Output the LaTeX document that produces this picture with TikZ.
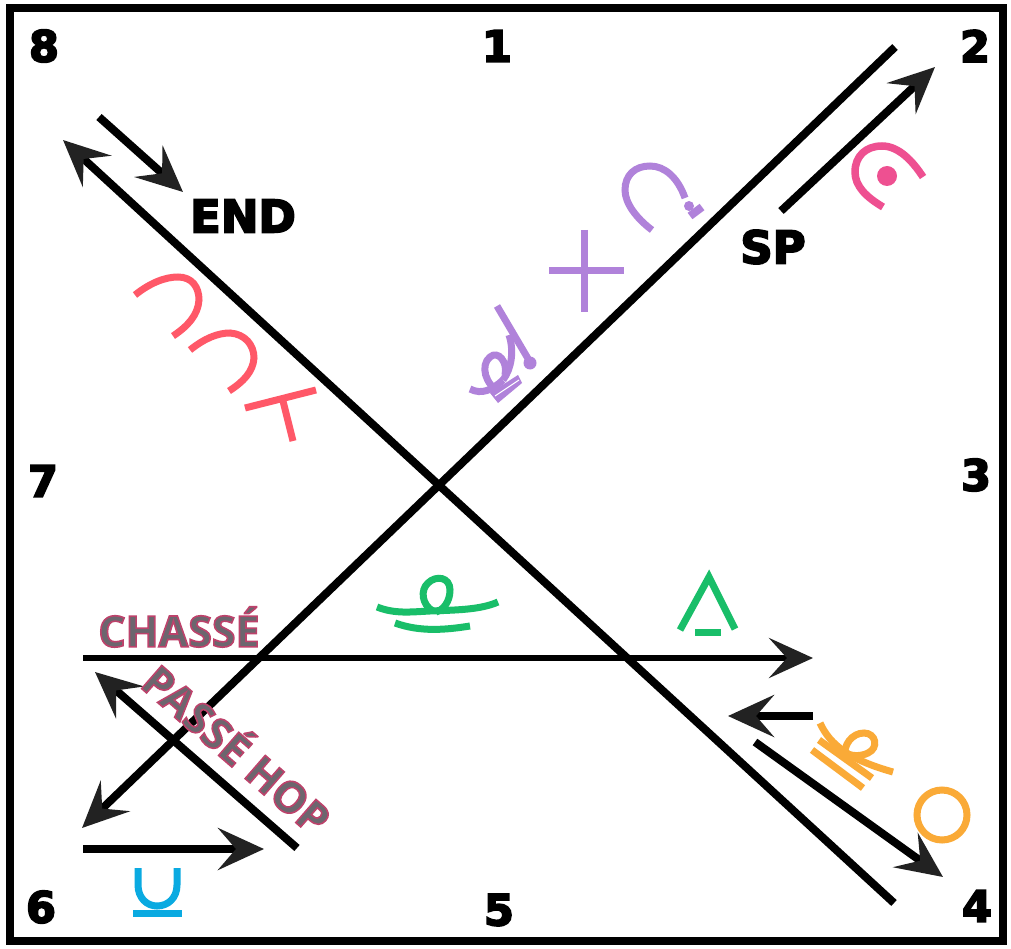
\documentclass[tikz,border=0pt]{standalone}
\usepackage{fontspec}
\usetikzlibrary{arrows.meta}
\setmainfont{DejaVu Sans}
\newfontfamily\lblfont{Open Sans}[BoldFont={* Bold}]
\definecolor{purp}{RGB}{176,130,218}
\definecolor{coral}{RGB}{255,88,104}
\definecolor{pinkc}{RGB}{238,80,145}
\definecolor{greenc}{RGB}{25,190,105}
\definecolor{orangec}{RGB}{250,170,55}
\definecolor{bluec}{RGB}{10,170,225}
\definecolor{greyt}{RGB}{108,102,110}
\definecolor{tipc}{RGB}{34,34,34}
\newcommand{\outl}[1]{\special{pdf:code 2 Tr 1.6 w 0.74 0.26 0.42 RG}#1\special{pdf:code 0 Tr}}
\newcommand{\blk}[1]{\special{pdf:code 2 Tr 1.8 w 0 0 0 RG}#1\special{pdf:code 0 Tr}}
\tikzset{
  num/.style={font=\bfseries\fontsize{43}{43}\selectfont,inner sep=0pt},
  heavy/.style={font=\bfseries\fontsize{45}{45}\selectfont,inner sep=0pt},
  danceword/.style={font=\lblfont\bfseries\fontsize{43}{43}\selectfont,inner sep=0pt,text=greyt},
  arrowed/.style={line width=8pt,-{Stealth[length=46pt,width=42pt,inset=18pt,color=tipc]}},
  thinarrow/.style={line width=6pt,-{Stealth[length=44pt,width=40pt,inset=18pt,color=tipc]}},
  glyph/.style={line width=7pt,line cap=butt,line join=miter},
}
\begin{document}
\begin{tikzpicture}[x=1pt,y=-1pt]
\useasboundingbox (0,0) rectangle (1011,949);
\fill[white] (0,0) rectangle (1011,949);
\draw[line width=8pt] (10,8) rectangle (1003,941);
% labels
\node[num] (n8) at (44,46) {\blk{8}};
\node[num] (n1) at (497,46) {\blk{1}};
\node[num] (n2) at (975,46) {\blk{2}};
\node[num] (n3) at (976,475) {\blk{3}};
\node[num] (n4) at (977,906) {\blk{4}};
\node[num] (n5) at (499,910) {\blk{5}};
\node[num] (n6) at (41,907) {\blk{6}};
\node[num] (n7) at (43,481) {\blk{7}};
\node[heavy] (endl) at (243,216) {\blk{END}};
\node[heavy] (spl) at (773,247) {\blk{SP}};
% main lines
\coordinate (a1) at (895,47);
\coordinate (a2) at (82,828);
\coordinate (b1) at (894,903);
\coordinate (b2) at (63,140);
\draw[arrowed] (a1) -- (a2);
\draw[arrowed] (b1) -- (b2);
\coordinate (c1) at (83,658);
\coordinate (c2) at (813,658);
\draw[thinarrow] (c1) -- (c2);
\coordinate (d1) at (99,117);
\coordinate (d2) at (183,192);
\draw[arrowed] (d1) -- (d2);
\coordinate (e1) at (781,211);
\coordinate (e2) at (935,67);
\draw[arrowed] (e1) -- (e2);
\coordinate (f1) at (813,716);
\coordinate (f2) at (728,716);
\draw[arrowed] (f1) -- (f2);
\coordinate (g1) at (755,742);
\coordinate (g2) at (943,877);
\draw[arrowed] (g1) -- (g2);
\coordinate (h1) at (83,849);
\coordinate (h2) at (264,849);
\draw[arrowed] (h1) -- (h2);
\coordinate (i1) at (297,848);
\coordinate (i2) at (95,672);
\draw[arrowed] (i1) -- (i2);
% words
\node[danceword] (chasse) at (179,627) {\color{greyt}\outl{\bfseries CHASSÉ}};
\node[danceword,rotate=-41] (passe) at (239,747) {\color{greyt}\outl{\bfseries PASSÉ HOP}};
% purple
\begin{scope}[purp,glyph]
\draw (652,230) .. controls (636,218) and (625,203) .. (625,190) .. controls (625,175) and (635,166) .. (650,166) .. controls (665,166) and (678,178) .. (685,198);
\draw[line width=8pt] (690,216) -- (702,207);
\fill (689,206) circle (5);
\draw (549,271) -- (624,271);
\draw (584,230) -- (584,312);
\draw (497,306) -- (530,362);
\fill (530,363) circle (6.5);
\draw (509,335) .. controls (514,350) and (512,368) .. (503,380);
\draw (470,389) .. controls (482,395) and (492,390) .. (503,380);
\draw (500,392) .. controls (485,385) and (480,365) .. (490,357) .. controls (498,350) and (508,362) .. (505,375);
\fill (490,393) -- (518,375) -- (522,383) -- (498,403) -- cycle;
\draw[white,line width=1pt] (495,396) -- (519,380);
\end{scope}
% coral
\begin{scope}[coral,glyph]
\draw (135,295) .. controls (150,283) and (165,277) .. (178,277) .. controls (192,277) and (199,287) .. (199,300) .. controls (198,315) and (188,326) .. (173,336);
\draw (190,350) .. controls (205,338) and (218,333) .. (230,333) .. controls (245,334) and (254,345) .. (254,358) .. controls (253,372) and (243,382) .. (229,391);
\draw (245,408) -- (316,390);
\draw (282,397) -- (293,441);
\end{scope}
% pink
\begin{scope}[pinkc,glyph]
\draw[line width=7.5pt] (883,207) .. controls (866,197) and (855,186) .. (855,172) .. controls (855,156) and (866,146) .. (882,146) .. controls (898,146) and (912,160) .. (923,177);
\fill (887,176) circle (10);
\end{scope}
% green
\begin{scope}[greenc,glyph]
\draw (377,607) .. controls (395,614) and (410,612) .. (430,611) .. controls (455,610) and (480,610) .. (498,602);
\draw (433,611) .. controls (422,605) and (420,590) .. (428,583) .. controls (436,575) and (450,577) .. (450,590) .. controls (450,602) and (443,610) .. (436,612);
\draw (395,623) .. controls (420,632) and (445,630) .. (470,626);
\draw (680,630) -- (709,577) -- (735,629);
\draw (695,632) -- (721,632);
\end{scope}
% orange
\begin{scope}[orangec,glyph]
\draw (812,750) -- (863,788);
\draw (819,740) -- (872,778);
\draw (820,723) .. controls (830,745) and (850,760) .. (893,772);
\draw (845,757) .. controls (843,745) and (852,733) .. (864,733) .. controls (876,733) and (879,748) .. (868,753) .. controls (860,757) and (850,756) .. (842,752);
\draw (942,815) circle (25);
\end{scope}
% blue
\begin{scope}[bluec,glyph]
\draw (138,868) -- (138,885) .. controls (138,898) and (147,906) .. (157,906) .. controls (168,906) and (177,898) .. (177,885) -- (177,868);
\draw (133,913) -- (182,913);
\end{scope}
\end{tikzpicture}
\end{document}
